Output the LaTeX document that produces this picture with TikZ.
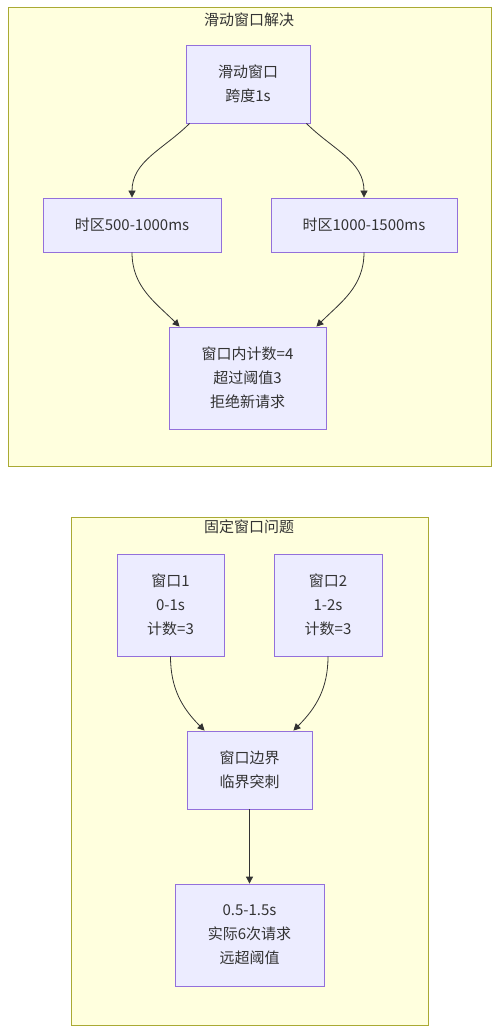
\documentclass[tikz,border=0pt]{standalone}
\usepackage{fontspec}
\setmainfont{Noto Sans CJK SC}
\usetikzlibrary{arrows.meta}
\definecolor{groupfill}{HTML}{FFFFDE}
\definecolor{groupline}{HTML}{AAAA33}
\definecolor{boxfill}{HTML}{ECECFF}
\definecolor{boxline}{HTML}{9370DB}
\definecolor{ink}{HTML}{333333}

\begin{document}
\begin{tikzpicture}[x=1pt, y=-1pt,
  group/.style={fill=groupfill, draw=groupline, line width=0.8pt},
  box/.style={fill=boxfill, draw=boxline, line width=0.8pt, inner sep=0pt, align=center, text=ink, font=\fontsize{15}{24}\selectfont},
  title/.style={text=ink, font=\fontsize{15}{18}\selectfont},
  flow/.style={draw=ink, line width=0.8pt, -{Triangle[length=7pt, width=7pt]}}]
\useasboundingbox (0,0) rectangle (499,1032);

\draw[group] (8,7) rectangle (491,466);
\node[title] (slidetitle) at (249,20) {滑动窗口解决};
\node[box, minimum width=124pt, minimum height=78pt] (win) at (248,84) {滑动窗口\\跨度1s};
\node[box, minimum width=178pt, minimum height=54pt] (zoneA) at (132,225) {时区500-1000ms};
\node[box, minimum width=186pt, minimum height=54pt] (zoneB) at (364,225) {时区1000-1500ms};
\node[box, minimum width=157pt, minimum height=102pt] (count) at (247.5,378) {窗口内计数=4\\超过阈值3\\拒绝新请求};

\draw[flow] ([xshift=4pt]win.south west) to[out=-135, in=90] (zoneA.north);
\draw[flow] ([xshift=-4pt]win.south east) to[out=-45, in=90] (zoneB.north);
\draw[flow] (zoneA.south) to[out=-90, in=135] ([xshift=11pt]count.north west);
\draw[flow] (zoneB.south) to[out=-90, in=45] ([xshift=-10pt]count.north east);

\draw[group] (71,517) rectangle (428,1025);
\node[title] (fixtitle) at (249,527) {固定窗口问题};
\node[box, minimum width=107pt, minimum height=102pt] (win1) at (170.5,605) {窗口1\\0-1s\\计数=3};
\node[box, minimum width=108pt, minimum height=102pt] (win2) at (328,605) {窗口2\\1-2s\\计数=3};
\node[box, minimum width=125pt, minimum height=78pt] (spike) at (249.5,770) {窗口边界\\临界突刺};
\node[box, minimum width=149pt, minimum height=102pt] (burst) at (249.5,935) {0.5-1.5s\\实际6次请求\\远超阈值};

\draw[flow] (win1.south) to[out=-90, in=135] ([xshift=18pt]spike.north west);
\draw[flow] (win2.south) to[out=-90, in=45] ([xshift=-19pt]spike.north east);
\draw[flow] (spike.south) -- (burst.north);
\end{tikzpicture}
\end{document}
